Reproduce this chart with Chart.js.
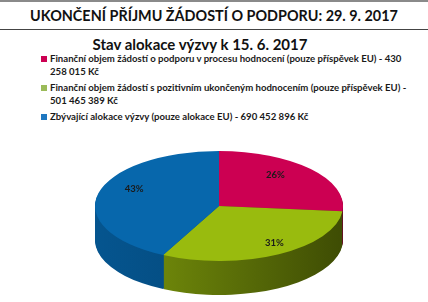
<!DOCTYPE html>
<html><head><meta charset="utf-8">
<script src="https://cdn.jsdelivr.net/npm/chart.js@4/dist/chart.umd.min.js"></script>
<style>
html,body{margin:0;padding:0;background:#fff;width:428px;height:302px;overflow:hidden;font-family:Lato,"Open Sans",sans-serif;}
#topline{position:absolute;left:0;top:0;width:428px;height:2px;background:#8a8a8a;}
#title{position:absolute;left:0;top:6px;width:428px;text-align:center;font-weight:bold;font-size:14.4px;line-height:20px;color:#111;white-space:nowrap;}
#rule{position:absolute;left:0;top:29px;width:428px;height:1px;background:#444;}
#sub{position:absolute;left:0;top:33px;width:400px;text-align:center;font-weight:bold;font-size:15px;line-height:22px;color:#111;white-space:nowrap;}
#legend{position:absolute;left:41px;top:52px;width:370px;font-size:9.6px;font-weight:bold;color:#1a1a1a;line-height:13px;}
.item{position:relative;padding-left:9px;margin-bottom:3px;}
.sq{position:absolute;left:0;top:4px;width:6px;height:6px;}
#wrap{position:absolute;left:0;top:125px;width:428px;height:177px;}
</style></head><body>
<div id="topline"></div>
<div id="title"></div>
<div id="rule"></div>
<div id="sub"></div>
<div id="legend"></div>
<div id="wrap"><canvas id="c"></canvas></div>
<script>
const mainTitle = "UKONČENÍ PŘÍJMU ŽÁDOSTÍ O PODPORU: 29. 9. 2017";
const chartTitle = "Stav alokace výzvy k 15. 6. 2017";
const categories = [
  "Finanční objem žádostí o podporu v procesu hodnocení (pouze  příspěvek EU)",
  "Finanční objem žádostí s pozitivním ukončeným hodnocením (pouze příspěvek EU)",
  "Zbývající alokace výzvy (pouze alokace EU)"
];
const amountLabels = ["430 258 015 Kč", "501 465 389 Kč", "690 452 896 Kč"];
const values = [430258015, 501465389, 690452896];
const percentLabels = ["26%", "31%", "43%"];
const topColors = ["#CC0052", "#99BB0E", "#0767AC"];
const sideColorsLight = ["#9c003e", "#7e9a0c", "#05558f"];
const sideColorsDark = ["#6e002c", "#3e4c04", "#033f6b"];
const legendColors = ["#CC0052", "#9BBB59", "#1F77C0"];

document.getElementById('title').textContent = mainTitle;
document.getElementById('sub').textContent = chartTitle;
const lg = document.getElementById('legend');
categories.forEach((c, i) => {
  const d = document.createElement('div'); d.className = 'item';
  const s = document.createElement('span'); s.className = 'sq'; s.style.background = legendColors[i];
  d.appendChild(s);
  d.appendChild(document.createTextNode(c + " - " + amountLabels[i]));
  lg.appendChild(d);
});

const RX = 124, RY = 55, DEPTH = 34;
const pie3d = {
  id: 'pie3d',
  beforeDatasetsDraw(chart) {
    const ctx = chart.ctx;
    const arcs = chart.getDatasetMeta(0).data;
    const cx = arcs[0].x, cy = arcs[0].y, R = arcs[0].outerRadius;
    const sx = RX / R, sy = RY / R;
    for (let d = DEPTH; d >= 1; d--) {
      ctx.save();
      ctx.translate(cx, cy + d);
      ctx.scale(sx, sy);
      ctx.translate(-cx, -cy);
      arcs.forEach((a, i) => {
        const g = ctx.createLinearGradient(cx - R, 0, cx + R, 0);
        g.addColorStop(0, sideColorsLight[i]);
        g.addColorStop(1, sideColorsDark[i]);
        ctx.fillStyle = g;
        ctx.beginPath();
        ctx.moveTo(cx, cy);
        ctx.arc(cx, cy, R, a.startAngle, a.endAngle);
        ctx.closePath();
        ctx.fill();
      });
      ctx.restore();
    }
    ctx.save();
    ctx.translate(cx, cy);
    ctx.scale(sx, sy);
    ctx.translate(-cx, -cy);
  },
  afterDatasetsDraw(chart) {
    const ctx = chart.ctx;
    ctx.restore();
    const arcs = chart.getDatasetMeta(0).data;
    const cx = arcs[0].x, cy = arcs[0].y;
    ctx.save();
    ctx.font = "bold 9.5px Lato, sans-serif";
    ctx.fillStyle = "#1a1a1a";
    ctx.textAlign = "center";
    ctx.textBaseline = "middle";
    arcs.forEach((a, i) => {
      const m = (a.startAngle + a.endAngle) / 2;
      const r = 0.75 + 0.2 * Math.sin(m);
      const x = cx + Math.cos(m) * RX * r;
      const y = cy - 8 + Math.sin(m) * RY * r;
      ctx.fillText(percentLabels[i], x, y);
    });
    ctx.restore();
  }
};

new Chart(document.getElementById('c'), {
  type: 'pie',
  data: { labels: categories, datasets: [{ data: values, backgroundColor: topColors, borderWidth: 0, hoverOffset: 0 }] },
  options: {
    responsive: true, maintainAspectRatio: false, animation: false, events: [],
    layout: { padding: { left: 10, top: 0, bottom: 15 } },
    plugins: { legend: { display: false }, tooltip: { enabled: false }, title: { display: false } }
  },
  plugins: [pie3d]
});
</script>
</body></html>
